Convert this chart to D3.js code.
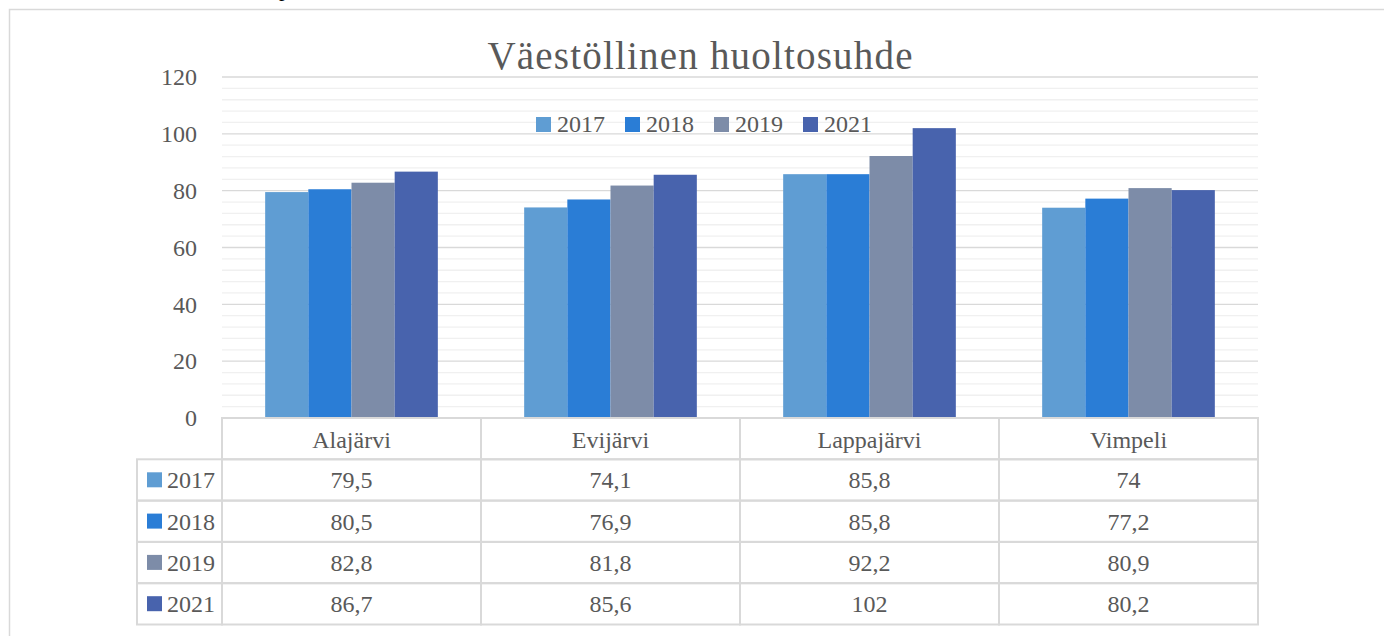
<!DOCTYPE html>
<html>
<head>
<meta charset="utf-8">
<script src="https://cdn.jsdelivr.net/npm/d3@7"></script>
<style>
  body { margin: 0; background: #fff; }
  text { font-family: "Liberation Serif", "DejaVu Serif", serif; fill: #595959; }
</style>
</head>
<body>
<div id="chart"></div>
<script>
// chart data
var categories = ["Alajärvi", "Evijärvi", "Lappajärvi", "Vimpeli"];
var years = ["2017", "2018", "2019", "2021"];
var values2017 = [79.5, 74.1, 85.8, 74];
var values2018 = [80.5, 76.9, 85.8, 77.2];
var values2019 = [82.8, 81.8, 92.2, 80.9];
var values2021 = [86.7, 85.6, 102, 80.2];
var yTicks = [0, 20, 40, 60, 80, 100, 120];
var title = "Väestöllinen huoltosuhde";

var series = [values2017, values2018, values2019, values2021];
var colors = ["#5f9dd3", "#2a7dd6", "#7d8ca8", "#4863ad"];

var width = 1384, height = 636;
var plotLeft = 222, plotRight = 1258, plotTop = 77, plotBottom = 418;
var rowH = 41.3;

var svg = d3.select("#chart")
  .append("svg")
  .attr("width", width)
  .attr("height", height);

// cut-off text from above the frame
svg.append("text")
  .attr("x", 279)
  .attr("y", -4)
  .style("font-size", "22px")
  .style("fill", "#000")
  .text("p");

// outer frame (runs off right and bottom)
svg.append("rect")
  .attr("x", 9.5)
  .attr("y", 9.5)
  .attr("width", 1400)
  .attr("height", 700)
  .attr("fill", "none")
  .attr("stroke", "#d9d9d9")
  .attr("stroke-width", 1.5);

var x0 = d3.scaleBand()
  .domain(categories)
  .range([plotLeft, plotRight]);

var x1 = d3.scaleBand()
  .domain(years)
  .range([0, x0.bandwidth()])
  .paddingOuter(1);

var y = d3.scaleLinear()
  .domain([0, 120])
  .range([plotBottom, plotTop]);

// minor gridlines
svg.append("g")
  .selectAll("line")
  .data(d3.range(0, 121, 4).filter(function(v) { return v % 20 != 0; }))
  .enter()
  .append("line")
  .attr("x1", plotLeft)
  .attr("x2", plotRight)
  .attr("y1", function(d) { return y(d); })
  .attr("y2", function(d) { return y(d); })
  .attr("stroke", "#f0f0f0")
  .attr("stroke-width", 1.3);

// major gridlines
svg.append("g")
  .selectAll("line")
  .data(yTicks.filter(function(v) { return v > 0; }))
  .enter()
  .append("line")
  .attr("x1", plotLeft)
  .attr("x2", plotRight)
  .attr("y1", function(d) { return y(d); })
  .attr("y2", function(d) { return y(d); })
  .attr("stroke", "#d9d9d9")
  .attr("stroke-width", 1.3);

// y axis labels
var yAxis = d3.axisLeft(y)
  .tickValues(yTicks)
  .tickSize(0)
  .tickPadding(0);

var yg = svg.append("g")
  .attr("transform", "translate(197,0)")
  .call(yAxis);
yg.attr("font-family", null);
yg.select(".domain").remove();
yg.selectAll("text")
  .style("font-family", "'Liberation Serif', serif")
  .style("font-size", "24px")
  .attr("fill", "#595959");

// bars
var groups = svg.append("g")
  .selectAll("g")
  .data(categories)
  .enter()
  .append("g")
  .attr("transform", function(d) { return "translate(" + x0(d) + ",0)"; });

groups.selectAll("rect")
  .data(function(d, i) {
    return years.map(function(yr, j) { return { year: yr, value: series[j][i], idx: j }; });
  })
  .enter()
  .append("rect")
  .attr("x", function(d) { return x1(d.year); })
  .attr("width", x1.bandwidth())
  .attr("y", function(d) { return y(d.value); })
  .attr("height", function(d) { return plotBottom - y(d.value); })
  .attr("fill", function(d) { return colors[d.idx]; });

// title
svg.append("text")
  .attr("x", 700)
  .attr("y", 69)
  .attr("text-anchor", "middle")
  .attr("textLength", 425)
  .attr("lengthAdjust", "spacing")
  .style("font-size", "39px")
  .text(title);

// legend at top
var legend = svg.append("g");
var lx = 536;
years.forEach(function(yr, i) {
  legend.append("rect")
    .attr("x", lx)
    .attr("y", 117)
    .attr("width", 15)
    .attr("height", 15)
    .attr("fill", colors[i]);
  var t = legend.append("text")
    .attr("x", lx + 21)
    .attr("y", 132)
    .style("font-size", "24px")
    .text(yr);
  lx += 21 + t.node().getComputedTextLength() + 20;
});

// data table
var table = svg.append("g");
var gridColor = "#d9d9d9";
var tableTop = plotBottom;
var rowsTop = tableTop + rowH;

// header row cells
categories.forEach(function(c) {
  table.append("rect")
    .attr("x", x0(c))
    .attr("y", tableTop)
    .attr("width", x0.bandwidth())
    .attr("height", rowH)
    .attr("fill", "none")
    .attr("stroke", gridColor)
    .attr("stroke-width", 2);
  table.append("text")
    .attr("x", x0(c) + x0.bandwidth() / 2)
    .attr("y", tableTop + 30)
    .attr("text-anchor", "middle")
    .style("font-size", "24px")
    .text(c);
});

years.forEach(function(yr, j) {
  var top = rowsTop + j * rowH;
  // legend key cell
  table.append("rect")
    .attr("x", 137)
    .attr("y", top)
    .attr("width", plotLeft - 137)
    .attr("height", rowH)
    .attr("fill", "none")
    .attr("stroke", gridColor)
    .attr("stroke-width", 2);
  table.append("rect")
    .attr("x", 147)
    .attr("y", top + 13)
    .attr("width", 15)
    .attr("height", 15)
    .attr("fill", colors[j]);
  table.append("text")
    .attr("x", 167)
    .attr("y", top + 29)
    .style("font-size", "24px")
    .text(yr);

  categories.forEach(function(c, i) {
    table.append("rect")
      .attr("x", x0(c))
      .attr("y", top)
      .attr("width", x0.bandwidth())
      .attr("height", rowH)
      .attr("fill", "none")
      .attr("stroke", gridColor)
      .attr("stroke-width", 2);
    table.append("text")
      .attr("x", x0(c) + x0.bandwidth() / 2)
      .attr("y", top + 29)
      .attr("text-anchor", "middle")
      .style("font-size", "24px")
      .text(String(series[j][i]).replace(".", ","));
  });
});
</script>
</body>
</html>
